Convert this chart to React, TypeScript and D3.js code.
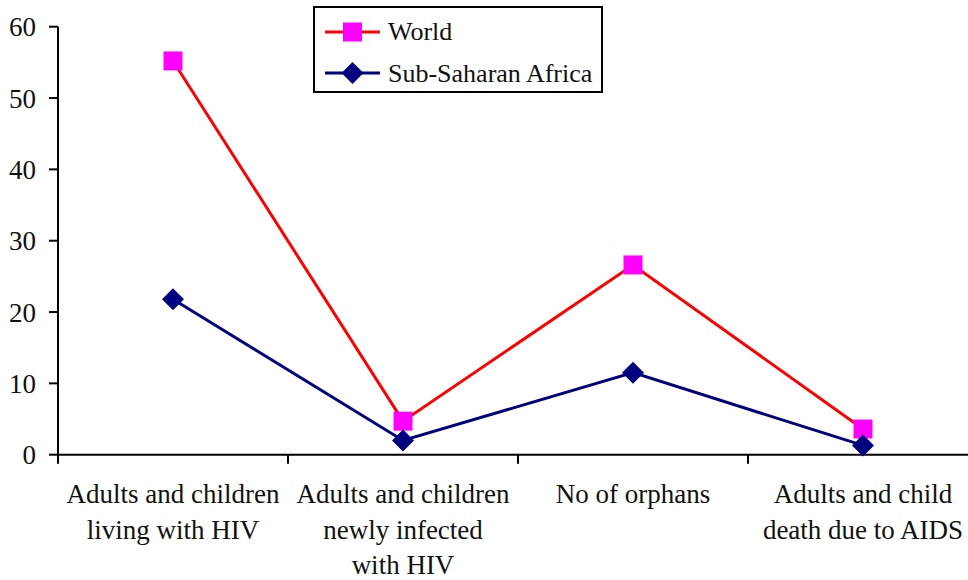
import React from "react";
import * as d3 from "d3";

const categories = [
  ["Adults and children", "living with HIV"],
  ["Adults and children", "newly infected", "with HIV"],
  ["No of orphans"],
  ["Adults and child", "death due to AIDS"],
];
const worldValues = [55.2, 4.7, 26.6, 3.6];
const ssaValues = [21.8, 2.0, 11.5, 1.3];
const yTicks = [0, 10, 20, 30, 40, 50, 60];
const seriesNames = ["World", "Sub-Saharan Africa"];

const W = 968;
const H = 580;
const left = 58;
const right = 978;
const top = 26.7;
const bottom = 454.7;
const AXIS: React.CSSProperties = { fontFamily: "Liberation Serif", fontSize: "27px" };
const LEG: React.CSSProperties = { fontFamily: "Liberation Serif", fontSize: "26px" };

export default function App() {
  const x = d3.scaleBand<number>().domain(d3.range(categories.length)).range([left, right]);
  const y = d3.scaleLinear().domain([0, 60]).range([bottom, top]);
  const line = d3
    .line<number>()
    .x((_, i) => x(i)! + x.bandwidth() / 2)
    .y((d) => y(d));
  const diamond = (cx: number, cy: number, r: number) =>
    `M${cx},${cy - r}L${cx + r},${cy}L${cx},${cy + r}L${cx - r},${cy}Z`;

  return (
    <svg width={W} height={H} style={{ position: "absolute", left: 0, top: 0 }}>
      <rect width={W} height={H} fill="white" />
      {/* y axis */}
      <line x1={left} x2={left} y1={top} y2={bottom} stroke="black" strokeWidth={2} />
      {yTicks.map((t) => (
        <g key={t}>
          <line x1={left - 9} x2={left} y1={y(t)} y2={y(t)} stroke="black" strokeWidth={2} />
          <text x={36} y={y(t) + 9.5} textAnchor="end" style={AXIS} fill="#111">
            {t}
          </text>
        </g>
      ))}
      {/* x axis */}
      <line x1={left} x2={right} y1={bottom} y2={bottom} stroke="black" strokeWidth={2} />
      {d3.range(categories.length + 1).map((i) => {
        const xx = i < categories.length ? x(i)! : right;
        return <line key={i} x1={xx} x2={xx} y1={bottom} y2={bottom + 9} stroke="black" strokeWidth={2} />;
      })}
      {categories.map((lines, i) => (
        <text key={i} x={x(i)! + x.bandwidth() / 2} y={503} textAnchor="middle" style={AXIS} fill="#111">
          {lines.map((l, j) => (
            <tspan key={j} x={x(i)! + x.bandwidth() / 2} dy={j === 0 ? 0 : 35.5}>
              {l}
            </tspan>
          ))}
        </text>
      ))}
      {/* series */}
      <path d={line(worldValues)!} fill="none" stroke="#ff0000" strokeWidth={3} />
      <path d={line(ssaValues)!} fill="none" stroke="#000080" strokeWidth={3} />
      {worldValues.map((v, i) => (
        <rect
          key={i}
          x={x(i)! + x.bandwidth() / 2 - 9.5}
          y={y(v) - 9.5}
          width={19}
          height={19}
          fill="#ff00ff"
        />
      ))}
      {ssaValues.map((v, i) => (
        <path key={i} d={diamond(x(i)! + x.bandwidth() / 2, y(v), 11)} fill="#000080" />
      ))}
      {/* legend */}
      <rect x={314} y={7} width={288} height={85} fill="white" stroke="black" strokeWidth={2} />
      <line x1={325} x2={380} y1={32} y2={32} stroke="#ff0000" strokeWidth={3} />
      <rect x={343} y={22.5} width={19} height={19} fill="#ff00ff" />
      <text x={388} y={40} style={LEG} fill="#111">
        {seriesNames[0]}
      </text>
      <line x1={325} x2={380} y1={73} y2={73} stroke="#000080" strokeWidth={3} />
      <path d={diamond(352.5, 73, 11)} fill="#000080" />
      <text x={388} y={82} style={LEG} fill="#111">
        {seriesNames[1]}
      </text>
    </svg>
  );
}
